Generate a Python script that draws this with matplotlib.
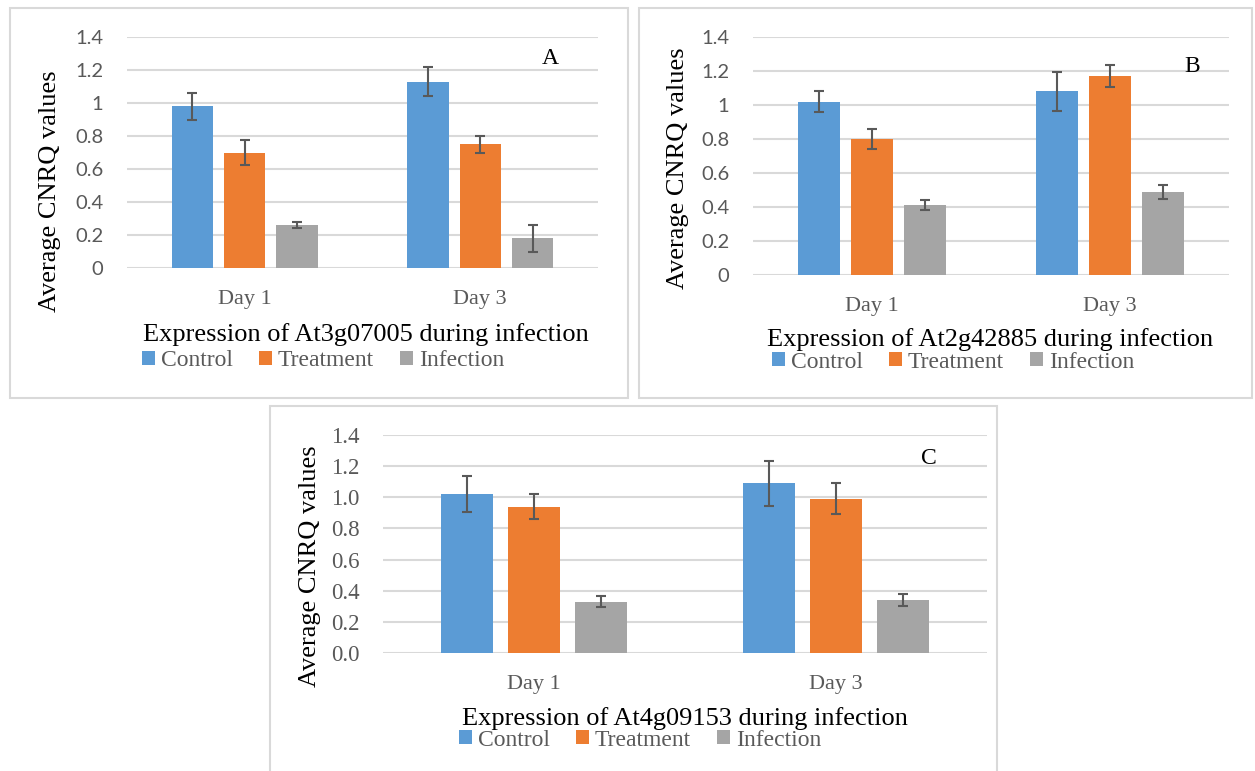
import matplotlib
matplotlib.use('Agg')
import matplotlib.pyplot as plt
from matplotlib.patches import Rectangle
from matplotlib.ticker import FuncFormatter
import numpy as np

W, H = 1255, 771

days = ['Day 1', 'Day 3']
groups = ['Control', 'Treatment', 'Infection']
colors = ['#5B9BD5', '#ED7D31', '#A5A5A5']

# panel A - At3g07005
a_control = [0.98, 1.13]
a_treatment = [0.70, 0.75]
a_infection = [0.26, 0.18]
a_control_err = [0.08, 0.09]
a_treatment_err = [0.075, 0.05]
a_infection_err = [0.02, 0.08]

# panel B - At2g42885
b_control = [1.02, 1.08]
b_treatment = [0.80, 1.17]
b_infection = [0.41, 0.49]
b_control_err = [0.06, 0.115]
b_treatment_err = [0.06, 0.065]
b_infection_err = [0.03, 0.04]

# panel C - At4g09153
c_control = [1.02, 1.09]
c_treatment = [0.94, 0.99]
c_infection = [0.33, 0.34]
c_control_err = [0.115, 0.145]
c_treatment_err = [0.08, 0.10]
c_infection_err = [0.035, 0.04]

yticks = [0, 0.2, 0.4, 0.6, 0.8, 1.0, 1.2, 1.4]

SERIF = 'Liberation Serif'
GRID = '#D9D9D9'
GREYTXT = '#595959'


def fx(x):
    return x / W


def fy(y):
    return 1 - y / H


def frame(fig, x0, y0, x1, y1):
    fig.add_artist(Rectangle((fx(x0), fy(y1)), fx(x1 - x0), (y1 - y0) / H,
                             transform=fig.transFigure, fill=False,
                             edgecolor=GRID, linewidth=1.5))


def panel(fig, box, means, errs, letter, letter_xy, ylab_xy, title, title_xy,
          leg_xy, tickfont, tickfmt, ticksize):
    x0, y0, x1, y1 = box
    ax = fig.add_axes([fx(x0), fy(y1), fx(x1 - x0), (y1 - y0) / H])
    x = np.arange(len(days))
    w = 0.175
    step = 0.222
    bars = []
    for i in range(3):
        b = ax.bar(x + (i - 1) * step, means[i], w, color=colors[i],
                   yerr=errs[i], capsize=3.5, zorder=3, label=groups[i],
                   error_kw=dict(ecolor=GREYTXT, elinewidth=1.5, capthick=1.5, zorder=4))
        bars.append(b)
    ax.set_xlim(-0.5, 1.5)
    ax.set_ylim(0, 1.4)
    ax.set_yticks(yticks)
    ax.yaxis.set_major_formatter(FuncFormatter(tickfmt))
    ax.grid(axis='y', color=GRID, linewidth=1.5, zorder=0)
    ax.set_axisbelow(True)
    for s in ax.spines.values():
        s.set_visible(False)
    ax.tick_params(axis='y', length=0, pad=17, labelcolor=GREYTXT, labelsize=ticksize)
    ax.tick_params(axis='x', length=0, pad=16, labelcolor=GREYTXT, labelsize=16)
    for lab in ax.get_yticklabels():
        lab.set_family(tickfont)
    ax.set_xticks(x)
    ax.set_xticklabels(days, family=SERIF)
    ax.text(fx(letter_xy[0]), fy(letter_xy[1]), letter, transform=fig.transFigure,
            family=SERIF, fontsize=17, ha='center', va='center')
    fig.text(fx(ylab_xy[0]), fy(ylab_xy[1]), 'Average CNRQ values', rotation=90,
             family=SERIF, fontsize=19, ha='center', va='center')
    fig.text(fx(title_xy[0]), fy(title_xy[1]), title, family=SERIF, fontsize=19,
             ha='center', va='center')
    fig.legend(handles=bars, labels=groups, loc='center', ncol=3, frameon=False,
               bbox_to_anchor=(fx(leg_xy[0]), fy(leg_xy[1])),
               prop=dict(family=SERIF, size=17), labelcolor=GREYTXT,
               handlelength=0.55, handleheight=0.55, handletextpad=0.25,
               columnspacing=1.1, borderpad=0)
    return ax


fig = plt.figure(figsize=(W / 100, H / 100), dpi=100)

frame(fig, 10, 8, 628, 398)
frame(fig, 639, 8, 1252, 398)
frame(fig, 270, 406, 997, 780)

panel(fig, (127, 37, 598, 268),
      [a_control, a_treatment, a_infection],
      [a_control_err, a_treatment_err, a_infection_err],
      'A', (550, 58), (50, 191), 'Expression of At3g07005 during infection', (366, 335),
      (323, 361), 'Lato', lambda v, p: '%g' % v, 14.5)

panel(fig, (753, 37, 1229, 275),
      [b_control, b_treatment, b_infection],
      [b_control_err, b_treatment_err, b_infection_err],
      'B', (1192, 66), (678, 168), 'Expression of At2g42885 during infection', (990, 340),
      (953, 362), 'Lato', lambda v, p: '%g' % v, 14.5)

panel(fig, (383, 435, 987, 653),
      [c_control, c_treatment, c_infection],
      [c_control_err, c_treatment_err, c_infection_err],
      'C', (929, 459), (310, 566), 'Expression of At4g09153 during infection', (685, 719),
      (640, 740), SERIF, lambda v, p: '%.1f' % v, 16.5)

fig.savefig('out.png', dpi=100)
